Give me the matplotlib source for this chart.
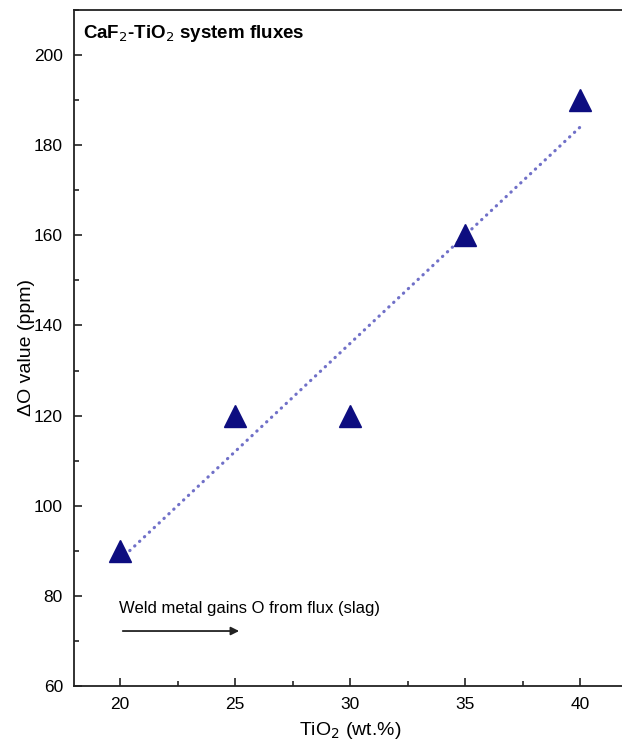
import numpy as np
import matplotlib
matplotlib.use("Agg")
import matplotlib.pyplot as plt
from matplotlib.ticker import MultipleLocator

plt.rcParams['font.family'] = ['Liberation Sans', 'DejaVu Sans']

tio2 = [20, 25, 30, 35, 40]
delta_o = [90, 120, 120, 160, 190]
title = "CaF$_2$-TiO$_2$ system fluxes"
note = "Weld metal gains O from flux (slag)"

fig = plt.figure(figsize=(6.22, 7.44), dpi=100)
ax = fig.add_axes([74/622, 1-686/744, (626-74)/622, (686-10)/744])

slope, icpt = np.polyfit(tio2, delta_o, 1)
xf = np.array([min(tio2), max(tio2)])
ax.plot(xf, slope*xf + icpt, linestyle=(0, (0.1, 2.0)), lw=2.3,
        color='#7070c8', dash_capstyle='round', zorder=2)
ax.plot(tio2, delta_o, linestyle='none', marker='^', ms=16.5,
        color='#0d0d80', markeredgecolor='#0d0d80', zorder=3)

ax.set_xlim(18, 42)
ax.set_ylim(60, 210)
ax.xaxis.set_major_locator(MultipleLocator(5))
ax.xaxis.set_minor_locator(MultipleLocator(2.5))
ax.yaxis.set_major_locator(MultipleLocator(20))
ax.yaxis.set_minor_locator(MultipleLocator(10))
ax.tick_params(which='both', direction='in', width=1.2, labelsize=12.5, pad=8,
               top=False, right=False, color='#222222')
ax.tick_params(which='major', length=6)
ax.tick_params(which='minor', length=3.5)
for s in ax.spines.values():
    s.set_linewidth(1.3)
    s.set_color('#222222')

ax.set_xlabel("TiO$_2$ (wt.%)", fontsize=14, labelpad=6)
ax.set_ylabel("ΔO value (ppm)", fontsize=14, labelpad=-1)

ax.text(0.016, 0.981, title, transform=ax.transAxes, fontsize=13.5,
        fontweight='bold', ha='left', va='top')
ax.text(19.95, 77.1, note, fontsize=12, ha='left', va='center')
ax.annotate("", xy=(25.3, 72.2), xytext=(20, 72.2),
            arrowprops=dict(arrowstyle='-|>', color='#222222', lw=1.3,
                            mutation_scale=12))

fig.savefig("out.png", dpi=100)
